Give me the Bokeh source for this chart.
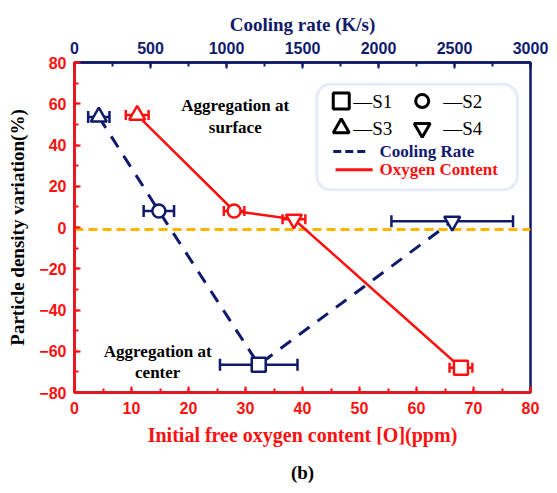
import numpy as np
from bokeh.plotting import figure
from bokeh.models import (Range1d, LinearAxis, ColumnDataSource, Whisker, TeeHead,
                          Span, BoxAnnotation, Title, FixedTicker)
from bokeh.core.properties import value
from bokeh.embed import file_html
from bokeh.resources import INLINE

# ---------------- data ----------------
samples = ["S1", "S2", "S3", "S4"]
markers = ["square", "circle", "triangle", "inverted_triangle"]
oxygen_ppm = [67.8, 28.0, 11.0, 38.5]
oxygen_err = [2.0, 1.8, 2.0, 2.0]
density_oxygen = [-68.0, 8.0, 54.5, 4.0]
cooling_rate = [1212, 555, 160, 2485]
cooling_err = [255, 100, 70, 400]
density_cooling = [-66.5, 8.0, 53.6, 3.0]
y_ticks = list(range(-80, 81, 20))
x_ticks = list(range(0, 81, 10))
top_ticks = list(range(0, 3001, 500))

# ---------------- styles ----------------
RED = "#ff1010"
NAVY = "#0f1a6b"
ORANGE = "#ffb400"
SERIF = value("Liberation Serif")
SANS = "Liberation Sans"
sizes = {"square": 14, "circle": 13, "triangle": 16, "inverted_triangle": 16}

p = figure(width=557, height=493, x_range=Range1d(0, 80), y_range=Range1d(-80, 80),
           output_backend="svg", toolbar_location=None,
           min_border_left=74, min_border_right=27, min_border_top=62, min_border_bottom=99)
p.extra_x_ranges = {"cool": Range1d(0, 3000)}
p.grid.visible = False
p.outline_line_color = NAVY
p.outline_line_width = 2.5
p.background_fill_color = "white"
p.border_fill_color = "white"


def style_axis(ax, color, label_color):
    ax.axis_line_color = color
    ax.axis_line_width = 2.5
    ax.major_tick_line_color = color
    ax.minor_tick_line_color = color
    ax.major_tick_line_width = 2
    ax.minor_tick_line_width = 2
    ax.major_tick_in = 6
    ax.major_tick_out = 0
    ax.minor_tick_in = 4
    ax.minor_tick_out = 0
    ax.major_label_text_color = color
    ax.major_label_text_font = SANS
    ax.major_label_text_font_style = "bold"
    ax.major_label_text_font_size = "16px"
    ax.axis_label_text_color = label_color
    ax.axis_label_text_font = "Liberation Serif"
    ax.axis_label_text_font_style = "bold"


# bottom axis
xa = p.xaxis[0]
xa.ticker = FixedTicker(ticks=x_ticks, minor_ticks=list(range(0, 81, 5)))
style_axis(xa, RED, RED)
xa.axis_label = "Initial free oxygen content [O](ppm)"
xa.axis_label_text_font_size = "20px"
xa.major_label_standoff = 9
xa.axis_label_standoff = 7

# left axis
ya = p.yaxis[0]
ya.ticker = FixedTicker(ticks=y_ticks, minor_ticks=list(range(-80, 81, 10)))
style_axis(ya, RED, "black")
ya.axis_label = "Particle density variation(%)"
ya.axis_label_text_font_size = "19px"
ya.major_label_standoff = 8
ya.axis_label_standoff = 8

# top axis
ta = LinearAxis(x_range_name="cool", axis_label="Cooling rate (K/s)",
                ticker=FixedTicker(ticks=top_ticks, minor_ticks=list(range(0, 3001, 250))))
style_axis(ta, NAVY, NAVY)
ta.axis_label_text_font_size = "19px"
ta.major_label_standoff = 9
ta.axis_label_standoff = 4
p.add_layout(ta, "above")

# legend frame (behind everything)
p.add_layout(BoxAnnotation(left=42.5, right=77.7, top=69.4, bottom=18.3,
                           fill_color="white", fill_alpha=1.0,
                           line_color="#aabfe8", line_width=3, border_radius=14,
                           level="underlay"))

# zero reference
p.add_layout(Span(location=-1, dimension="width", line_color=ORANGE, line_width=3,
                  line_dash="9 5", level="underlay"))

# ---------------- oxygen content series (red) ----------------
ox = ColumnDataSource(dict(x=oxygen_ppm, y=density_oxygen, m=markers,
                           s=[sizes[m] for m in markers],
                           lo=np.array(oxygen_ppm) - np.array(oxygen_err),
                           hi=np.array(oxygen_ppm) + np.array(oxygen_err)))
order_o = np.argsort(oxygen_ppm)
p.line(np.array(oxygen_ppm)[order_o], np.array(density_oxygen)[order_o],
       line_color=RED, line_width=2.5)
p.add_layout(Whisker(source=ox, base="y", lower="lo", upper="hi", dimension="width",
                     line_color=RED, line_width=2.5,
                     lower_head=TeeHead(size=10, line_color=RED, line_width=2.5),
                     upper_head=TeeHead(size=10, line_color=RED, line_width=2.5)))

# ---------------- cooling rate series (navy) ----------------
cr = ColumnDataSource(dict(x=cooling_rate, y=density_cooling, m=markers,
                           s=[sizes[m] for m in markers],
                           lo=np.array(cooling_rate) - np.array(cooling_err),
                           hi=np.array(cooling_rate) + np.array(cooling_err)))
order_c = np.argsort(cooling_rate)
p.line(np.array(cooling_rate)[order_c], np.array(density_cooling)[order_c],
       x_range_name="cool", line_color=NAVY, line_width=3, line_dash="13 10")
p.add_layout(Whisker(source=cr, base="y", lower="lo", upper="hi", dimension="width",
                     x_range_name="cool", line_color=NAVY, line_width=2.5,
                     lower_head=TeeHead(size=12, line_color=NAVY, line_width=2.5),
                     upper_head=TeeHead(size=12, line_color=NAVY, line_width=2.5)))

p.scatter("x", "y", marker="m", size="s", source=ox, fill_color="white",
          line_color=RED, line_width=2.5)
p.scatter("x", "y", marker="m", size="s", source=cr, x_range_name="cool",
          fill_color="white", line_color=NAVY, line_width=2.5)

# ---------------- annotations ----------------
p.text(x=[28.2, 28.2, 14.6, 14.6], y=[59.3, 48.7, -60.2, -70.4],
       text=["Aggregation at", "surface", "Aggregation at", "center"],
       text_font=SERIF, text_font_style="bold", text_font_size="17px",
       text_color="black", text_align="center", text_baseline="middle")

# ---------------- legend (drawn by hand) ----------------
leg_mx = [46.8, 61.0, 46.8, 61.0]
leg_my = [61.3, 61.3, 48.2, 48.2]
p.scatter(leg_mx, leg_my, marker=markers, size=[16, 13, 16, 16],
          fill_color="white", line_color="black", line_width=3)
p.text(x=[48.9, 64.7, 48.9, 64.7], y=leg_my, text=["—" + s for s in samples],
       text_font=SERIF, text_font_size="19px", text_color="black",
       text_baseline="middle")
p.line([45.4, 51.6], [36.8, 36.8], line_color=NAVY, line_width=3, line_dash="8 4")
p.line([45.8, 52.3], [28.0, 28.0], line_color=RED, line_width=3)
p.text(x=[53.5, 53.5], y=[36.8, 28.0], text=["Cooling Rate", "Oxygen Content"],
       text_font=SERIF, text_font_style="bold", text_font_size="17px",
       text_color=[NAVY, RED], text_baseline="middle")

p.add_layout(Title(text="(b)", align="center", text_font="Liberation Serif",
                   text_font_style="bold", text_font_size="19px",
                   text_color="black", standoff=22), "below")

open("out.html", "w").write(file_html(p, INLINE))
